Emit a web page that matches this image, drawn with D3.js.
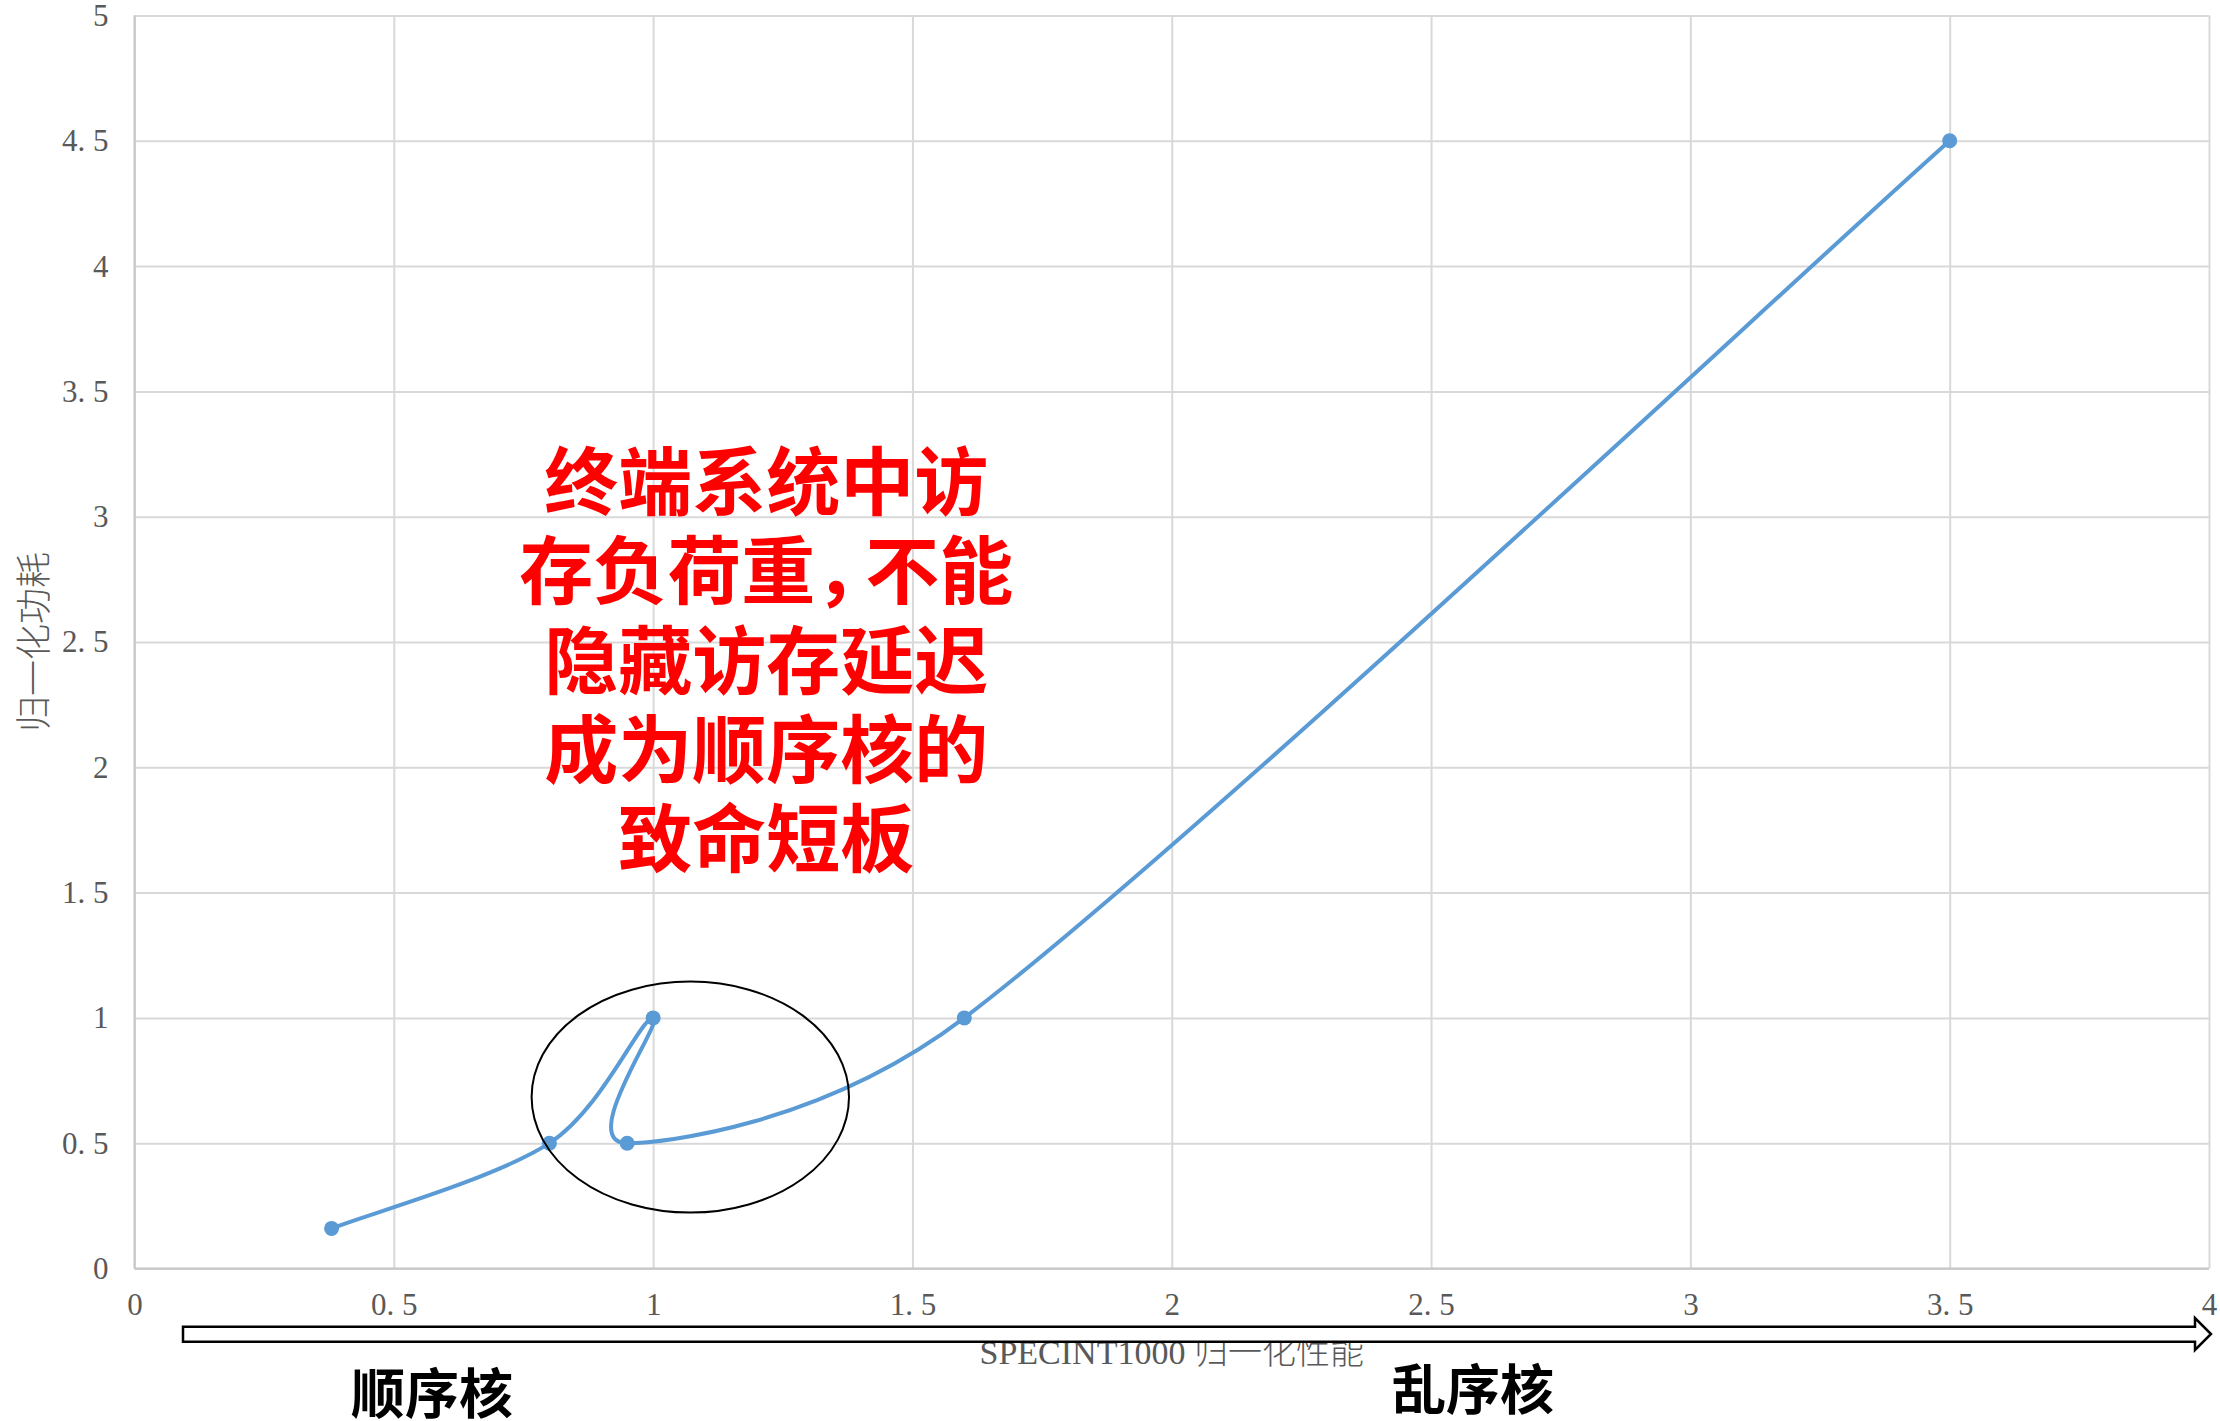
<!DOCTYPE html>
<html>
<head>
<meta charset="utf-8">
<script src="https://cdn.jsdelivr.net/npm/d3@7"></script>
<style>
  body { margin: 0; background: #fff; }
  svg { display: block; }
</style>
</head>
<body>
<div id="chart"></div>
<script>
// data
const perf  = [0.38, 0.8, 1.0, 0.95, 1.6, 3.5];
const power = [0.16, 0.5, 1.0, 0.5, 1.0, 4.5];
const xTicks = [0, 0.5, 1, 1.5, 2, 2.5, 3, 3.5, 4];
const yTicks = [0, 0.5, 1, 1.5, 2, 2.5, 3, 3.5, 4, 4.5, 5];
const xTitle = "SPECINT1000 归一化性能";
const yTitle = "归一化功耗";
const noteLines = ["终端系统中访", "存负荷重，不能", "隐藏访存延迟", "成为顺序核的", "致命短板"];
const leftLabel = "顺序核";
const rightLabel = "乱序核";

const W = 2220, H = 1421;
const margin = { top: 15.5, left: 134.5, right: 11, bottom: 152.5 };
const width = W - margin.left - margin.right,
      height = H - margin.top - margin.bottom;

const svg = d3.select("#chart").append("svg")
  .attr("width", W)
  .attr("height", H);

const g = svg.append("g")
  .attr("transform", `translate(${margin.left}, ${margin.top})`);

const x = d3.scaleLinear().domain([0, 4]).range([0, width]);
const y = d3.scaleLinear().domain([0, 5]).range([height, 0]);

const fmt = d => String(d).replace(".", ". ");

// grid
g.append("g")
  .attr("class", "grid-y")
  .call(d3.axisLeft(y).tickValues(yTicks).tickSize(-width).tickFormat(""))
  .call(s => s.select(".domain").remove())
  .call(s => s.selectAll("line").attr("stroke", "#d9d9d9").attr("stroke-width", 2));

g.append("g")
  .attr("class", "grid-x")
  .attr("transform", `translate(0, ${height})`)
  .call(d3.axisBottom(x).tickValues(xTicks).tickSize(-height).tickFormat(""))
  .call(s => s.select(".domain").remove())
  .call(s => s.selectAll("line").attr("stroke", "#d9d9d9").attr("stroke-width", 2));

// axis lines
g.append("line")
  .attr("x1", 0).attr("x2", 0).attr("y1", 0).attr("y2", height)
  .attr("stroke", "#c6c6c6").attr("stroke-width", 2);
g.append("line")
  .attr("x1", 0).attr("x2", width).attr("y1", height).attr("y2", height)
  .attr("stroke", "#c6c6c6").attr("stroke-width", 2);

// tick labels
g.append("g")
  .attr("class", "axis--y")
  .call(d3.axisLeft(y).tickValues(yTicks).tickSize(0).tickPadding(26).tickFormat(fmt))
  .call(s => s.select(".domain").remove())
  .call(s => s.selectAll("text")
    .style("font-family", "'Liberation Serif', serif")
    .style("font-size", "31px")
    .attr("fill", "#595959"));

g.append("g")
  .attr("class", "axis--x")
  .attr("transform", `translate(0, ${height})`)
  .call(d3.axisBottom(x).tickValues(xTicks).tickSize(0).tickPadding(24).tickFormat(fmt))
  .call(s => s.select(".domain").remove())
  .call(s => s.selectAll("text")
    .style("font-family", "'Liberation Serif', serif")
    .style("font-size", "31px")
    .attr("fill", "#595959"));

// axis titles
svg.append("text")
  .attr("x", margin.left + width / 2)
  .attr("y", 1364)
  .attr("text-anchor", "middle")
  .style("font-family", "'Liberation Serif', 'Noto Sans CJK SC', serif")
  .style("font-size", "34px")
  .style("font-weight", 300)
  .attr("fill", "#595959")
  .text(xTitle);

svg.append("text")
  .attr("transform", `translate(31, ${margin.top + height / 2}) rotate(-90)`)
  .attr("text-anchor", "middle")
  .attr("dominant-baseline", "central")
  .style("font-family", "'Noto Sans CJK SC', sans-serif")
  .style("font-size", "36px")
  .style("font-weight", 300)
  .attr("fill", "#595959")
  .text(yTitle);

// Excel style smoothed line (bezier, tension 1/6 with clamping)
function smoothPath(pts) {
  const p = d3.path();
  const n = pts.length;
  const dist = (a, b) => Math.hypot(b[0] - a[0], b[1] - a[1]);
  p.moveTo(pts[0][0], pts[0][1]);
  for (let i = 0; i < n - 1; i++) {
    const p0 = pts[Math.max(i - 1, 0)], p1 = pts[i], p2 = pts[i + 1], p3 = pts[Math.min(i + 2, n - 1)];
    const d02 = dist(p0, p2), d12 = dist(p1, p2), d13 = dist(p1, p3);
    let f1 = 1 / 6, f2 = 1 / 6;
    const ok1 = d02 / 6 < d12 / 2, ok2 = d13 / 6 < d12 / 2;
    if (!ok1 && !ok2) { f1 = d12 / (2 * d02); f2 = d12 / (2 * d13); }
    else if (!ok1) { f1 = d12 / (2 * d02); f2 = d12 / (2 * d02); }
    else if (!ok2) { f1 = d12 / (2 * d13); f2 = d12 / (2 * d13); }
    p.bezierCurveTo(
      p1[0] + (p2[0] - p0[0]) * f1, p1[1] + (p2[1] - p0[1]) * f1,
      p2[0] - (p3[0] - p1[0]) * f2, p2[1] - (p3[1] - p1[1]) * f2,
      p2[0], p2[1]);
  }
  return p.toString();
}

const pts = perf.map((d, i) => [x(d), y(power[i])]);

g.append("path")
  .attr("d", smoothPath(pts))
  .attr("fill", "none")
  .attr("stroke", "#5B9BD5")
  .attr("stroke-width", 4)
  .attr("stroke-linecap", "round");

g.append("g")
  .selectAll("circle")
  .data(pts)
  .enter()
  .append("circle")
  .attr("cx", d => d[0])
  .attr("cy", d => d[1])
  .attr("r", 7.5)
  .attr("fill", "#5B9BD5");

// ellipse annotation
g.append("ellipse")
  .attr("cx", x(1.0717))
  .attr("cy", y(0.684))
  .attr("rx", x(0.306) - x(0))
  .attr("ry", y(0) - y(0.461))
  .attr("fill", "none")
  .attr("stroke", "#000")
  .attr("stroke-width", 2);

// red note; the full-width comma is drawn narrower, as in the original
g.append("g")
  .selectAll("text")
  .data(noteLines)
  .enter()
  .append("text")
  .attr("x", x(1.218))
  .attr("y", (d, i) => 509 - margin.top + i * 89.3)
  .attr("text-anchor", "middle")
  .style("font-family", "'Noto Sans CJK SC', sans-serif")
  .style("font-size", "74px")
  .style("font-weight", "bold")
  .attr("fill", "#FF0000")
  .each(function(d) {
    const parts = d.split("，");
    const t = d3.select(this);
    parts.forEach((part, k) => {
      const span = t.append("tspan").text(k < parts.length - 1 ? part + "，" : part);
      if (k > 0) span.attr("dx", -24);
    });
  });

// arrow under the x axis
const arrowX0 = 183, arrowX1 = 2195, arrowTip = 2211, arrowTop = 1326.7, arrowBot = 1341.7;
svg.append("path")
  .attr("d", `M${arrowX0},${arrowTop} L${arrowX1},${arrowTop} L${arrowX1},1318 L${arrowTip},1334 L${arrowX1},1350 L${arrowX1},${arrowBot} L${arrowX0},${arrowBot} Z`)
  .attr("fill", "#fff")
  .attr("stroke", "#000")
  .attr("stroke-width", 2.5)
  .attr("stroke-linejoin", "miter");

svg.append("text")
  .attr("x", 432)
  .attr("y", 1414)
  .attr("text-anchor", "middle")
  .style("font-family", "'Noto Sans CJK SC', sans-serif")
  .style("font-size", "54px")
  .style("font-weight", "bold")
  .attr("fill", "#000")
  .text(leftLabel);

svg.append("text")
  .attr("x", 1473)
  .attr("y", 1410)
  .attr("text-anchor", "middle")
  .style("font-family", "'Noto Sans CJK SC', sans-serif")
  .style("font-size", "54px")
  .style("font-weight", "bold")
  .attr("fill", "#000")
  .text(rightLabel);
</script>
</body>
</html>
